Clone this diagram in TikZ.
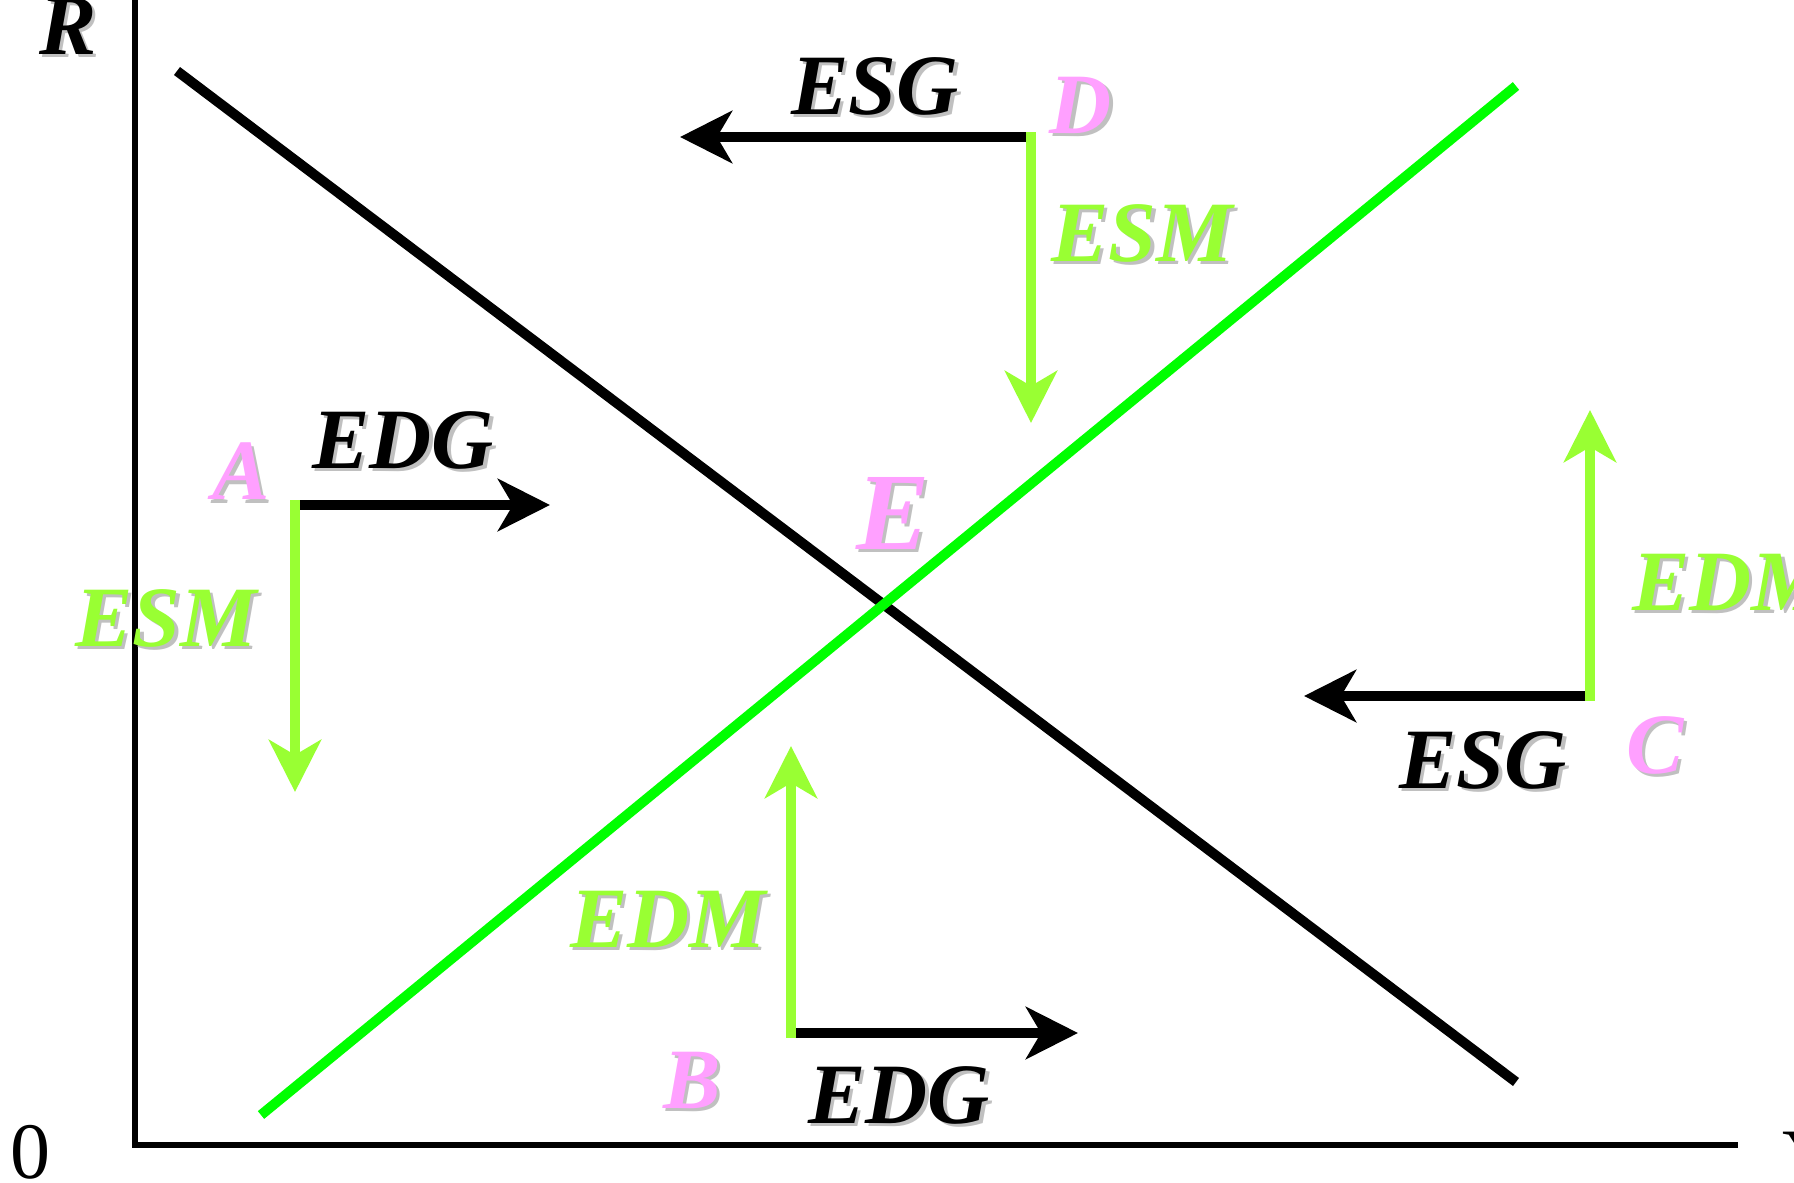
\documentclass[tikz,border=0pt]{standalone}
\usepackage{fontspec}
\setmainfont{Liberation Serif}
\usetikzlibrary{arrows.meta}
\definecolor{pinkl}{HTML}{FFA0FF}
\definecolor{greenl}{HTML}{99FF33}
\definecolor{greenline}{HTML}{00FF00}
\definecolor{shgray}{HTML}{C0C0C0}
\newcommand\shtxt[2]{\makebox[0pt][l]{\hspace*{3.5pt}\raisebox{-3.5pt}{\textcolor{shgray}{#2}}}\textcolor{#1}{#2}}
\begin{document}
\begin{tikzpicture}[x=1pt,y=-1pt,
  axisline/.style={line width=6pt},
  curveline/.style={line width=10pt},
  flowarrow/.style={line width=10.5pt,-{Stealth[length=52pt,width=52pt,inset=15pt]}},
  lbl/.style={inner sep=0pt,font=\fontsize{86}{100}\selectfont\bfseries\itshape},
  biglbl/.style={inner sep=0pt,font=\fontsize{110}{120}\selectfont\bfseries\itshape},
  axlbl/.style={inner sep=0pt,font=\fontsize{80}{96}\selectfont}]
\useasboundingbox (0,0) rectangle (1794,1183);
% axes
\coordinate (O) at (135,1145);
\coordinate (Ytop) at (135,-5);
\coordinate (Xend) at (1738,1145);
\draw[axisline] (Ytop) -- (O) -- (Xend);
\node[lbl] (R) at (68,28) {\shtxt{black}{R}};
\node[axlbl] (zero) at (30,1152) {0};
\node[axlbl] (Y) at (1811,1158) {Y};
% demand and supply lines
\coordinate (D1) at (177,71);
\coordinate (D2) at (1516,1082);
\coordinate (S1) at (261,1115);
\coordinate (S2) at (1516,86);
\draw[curveline] (D1) -- (D2);
\draw[curveline,greenline] (S1) -- (S2);
% point A
\coordinate (Ac) at (295,505);
\coordinate (Ag) at (295,500);
\coordinate (Ax) at (550,505);
\coordinate (Ay) at (295,792);
\draw[flowarrow] (Ac) -- (Ax);
\draw[flowarrow,greenl] (Ag) -- (Ay);
\node[lbl] (A) at (241,473) {\shtxt{pinkl}{A}};
\node[lbl] (EDGa) at (403,442) {\shtxt{black}{EDG}};
\node[lbl] (ESMa) at (166,620) {\shtxt{greenl}{ESM}};
% point D
\coordinate (Dc) at (1031,137);
\coordinate (Dg) at (1031,132);
\coordinate (Dx) at (680,137);
\coordinate (Dy) at (1031,423);
\draw[flowarrow] (Dc) -- (Dx);
\draw[flowarrow,greenl] (Dg) -- (Dy);
\node[lbl] (ESGd) at (875,88) {\shtxt{black}{ESG}};
\node[lbl] (D) at (1081,107) {\shtxt{pinkl}{D}};
\node[lbl] (ESMd) at (1142,235) {\shtxt{greenl}{ESM}};
% point E
\node[biglbl] (E) at (893,515) {\shtxt{pinkl}{E}};
% point B
\coordinate (Bc) at (791,1033);
\coordinate (Bg) at (791,1038);
\coordinate (Bx) at (1078,1033);
\coordinate (By) at (791,746);
\draw[flowarrow] (Bc) -- (Bx);
\draw[flowarrow,greenl] (Bg) -- (By);
\node[lbl] (B) at (692,1082) {\shtxt{pinkl}{B}};
\node[lbl] (EDGb) at (899,1097) {\shtxt{black}{EDG}};
\node[lbl] (EDMb) at (668,921) {\shtxt{greenl}{EDM}};
% point C
\coordinate (Cc) at (1590,696);
\coordinate (Cg) at (1590,701);
\coordinate (Cx) at (1304,696);
\coordinate (Cy) at (1590,410);
\draw[flowarrow] (Cc) -- (Cx);
\draw[flowarrow,greenl] (Cg) -- (Cy);
\node[lbl] (ESGc) at (1483,762) {\shtxt{black}{ESG}};
\node[lbl] (C) at (1655,747) {\shtxt{pinkl}{C}};
\node[lbl] (EDMc) at (1730,584) {\shtxt{greenl}{EDM}};
\end{tikzpicture}
\end{document}
